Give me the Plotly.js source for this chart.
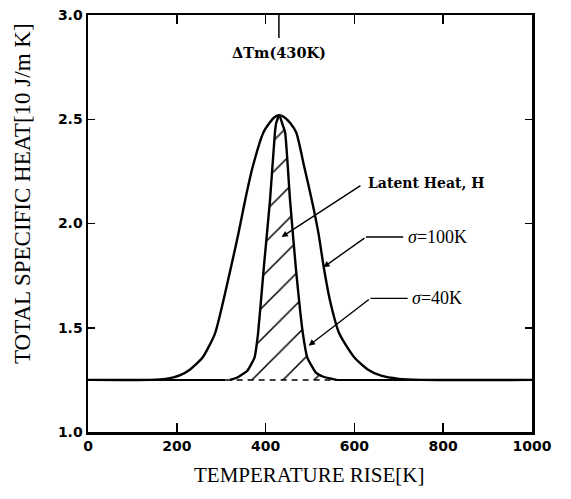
<!DOCTYPE html>
<html>
<head>
<meta charset="utf-8">
<script src="https://cdn.plot.ly/plotly-3.0.1.min.js"></script>
<style>html,body{margin:0;padding:0;background:#fff;}#chart{width:571px;height:499px;}</style>
</head>
<body>
<div id="chart"></div>
<script>
// ---- data ----
const baseline = 1.25;
const baseLeftX = [0, 310];
const baseDashX = [310, 557];
const baseRightX = [557, 1000];

// sigma = 100K (wide curve)
const wideX = [0, 140, 175, 205, 230, 258, 286, 305, 322, 339, 354, 371, 395, 409, 420, 431, 442, 455, 469, 487, 504, 519, 531, 545, 566, 600, 630, 660, 700, 750, 1000];
const wideY = [1.25, 1.25, 1.255, 1.27, 1.30, 1.357, 1.472, 1.631, 1.79, 1.954, 2.113, 2.272, 2.436, 2.483, 2.510, 2.52, 2.510, 2.483, 2.436, 2.272, 2.113, 1.954, 1.79, 1.631, 1.472, 1.357, 1.30, 1.27, 1.255, 1.25, 1.25];

// sigma = 40K (narrow curve)
const narrowX = [0, 320, 335, 359, 375, 383, 396, 410, 421, 424, 431, 437, 444, 455, 468, 484, 494, 513, 530, 549, 560, 1000];
const narrowY = [1.25, 1.25, 1.26, 1.294, 1.357, 1.472, 1.79, 2.113, 2.436, 2.483, 2.52, 2.483, 2.436, 2.113, 1.79, 1.472, 1.357, 1.285, 1.265, 1.255, 1.25, 1.25];

const tmK = [430];
const xTicks = [0, 200, 400, 600, 800, 1000];
const yTicks = [1.0, 1.5, 2.0, 2.5, 3.0];

// ---- traces ----
const hatchIdx = narrowX.map((x, i) => i).filter(i => narrowX[i] >= 320 && narrowX[i] <= 560);
const hatch = {
  x: hatchIdx.map(i => narrowX[i]),
  y: hatchIdx.map(i => narrowY[i]),
  mode: 'lines', line: {width: 0, color: 'rgba(0,0,0,0)', shape: 'spline', smoothing: 0.4},
  fill: 'toself', fillcolor: 'rgba(0,0,0,0)',
  fillpattern: {shape: '/', fgcolor: '#000', bgcolor: 'rgba(0,0,0,0)', size: 22, solidity: 0.07},
  hoverinfo: 'skip', showlegend: false
};
const lineStyle = {color: '#000', width: 2.4, shape: 'spline', smoothing: 0.6};
const traces = [
  hatch,
  {x: baseLeftX, y: baseLeftX.map(() => baseline), mode: 'lines', line: {color: '#000', width: 2}, showlegend: false},
  {x: baseDashX, y: baseDashX.map(() => baseline), mode: 'lines', line: {color: '#000', width: 1.5, dash: '6px,5px'}, showlegend: false},
  {x: baseRightX, y: baseRightX.map(() => baseline), mode: 'lines', line: {color: '#000', width: 2}, showlegend: false},
  {x: wideX, y: wideY, mode: 'lines', line: lineStyle, name: 'σ=100K', showlegend: false},
  {x: narrowX.slice(1, -1), y: narrowY.slice(1, -1), mode: 'lines', line: {color: '#000', width: 2.4, shape: 'spline', smoothing: 0.4}, name: 'σ=40K', showlegend: false}
];

const serifB = {family: 'DejaVu Serif', size: 14, color: '#000', weight: 'bold'};
const timesF = {family: 'Liberation Serif', size: 18, color: '#000'};
const annotations = [
  {x: tmK[0], y: 2.82, xref: 'x', yref: 'y', text: 'ΔTm(' + tmK[0] + 'K)', showarrow: false, font: {family: 'DejaVu Serif', size: 14.5, color: '#000', weight: 'bold'}},
  {x: 626, y: 2.195, xref: 'x', yref: 'y', xanchor: 'left', text: 'Latent Heat, H', showarrow: false, font: serifB},
  {x: 436, y: 1.935, xref: 'x', yref: 'y', ax: 617, ay: 2.186, axref: 'x', ayref: 'y', text: '', showarrow: true, arrowhead: 2, arrowsize: 0.9, arrowwidth: 1.4, arrowcolor: '#000'},
  {x: 716, y: 1.935, xref: 'x', yref: 'y', xanchor: 'left', text: '<i>σ</i>=100K', showarrow: false, font: timesF},
  {x: 530, y: 1.79, xref: 'x', yref: 'y', ax: 626, ay: 1.935, axref: 'x', ayref: 'y', text: '', showarrow: true, arrowhead: 2, arrowsize: 0.9, arrowwidth: 1.4, arrowcolor: '#000'},
  {x: 726, y: 1.641, xref: 'x', yref: 'y', xanchor: 'left', text: '<i>σ</i>=40K', showarrow: false, font: timesF},
  {x: 497, y: 1.414, xref: 'x', yref: 'y', ax: 636, ay: 1.641, axref: 'x', ayref: 'y', text: '', showarrow: true, arrowhead: 2, arrowsize: 0.9, arrowwidth: 1.4, arrowcolor: '#000'},
  {x: 0.497, y: -0.103, xref: 'paper', yref: 'paper', xanchor: 'center', yanchor: 'middle', text: 'TEMPERATURE RISE[K]', showarrow: false, font: {family: 'Liberation Serif', size: 21, color: '#000'}},
  {x: -0.146, y: 0.571, xref: 'paper', yref: 'paper', xanchor: 'center', yanchor: 'middle', text: 'TOTAL SPECIFIC HEAT[10 J/m K]', textangle: -90, showarrow: false, font: {family: 'Liberation Serif', size: 23, color: '#000'}}
];

const shapes = [
  {type: 'line', xref: 'x', yref: 'paper', x0: tmK[0], x1: tmK[0], y0: 1, y1: 0.945, line: {color: '#000', width: 1.5}},
  {type: 'line', xref: 'x', yref: 'y', x0: 626, x1: 710, y0: 1.935, y1: 1.935, line: {color: '#000', width: 1.4}},
  {type: 'line', xref: 'x', yref: 'y', x0: 636, x1: 720, y0: 1.641, y1: 1.641, line: {color: '#000', width: 1.4}}
];

const tickFont = {family: 'DejaVu Sans', size: 14, color: '#000', weight: 'bold'};
const layout = {
  width: 571, height: 499,
  margin: {l: 88, r: 39, t: 15, b: 67},
  paper_bgcolor: '#fff', plot_bgcolor: '#fff',
  showlegend: false,
  xaxis: {
    range: [0, 1000], tickvals: xTicks, ticktext: xTicks.map(String),
    ticks: 'inside', ticklen: 9, tickwidth: 1.5, tickcolor: '#000',
    showline: true, linewidth: 2.5, linecolor: '#000', mirror: 'ticks',
    showgrid: false, zeroline: false, tickfont: tickFont
  },
  yaxis: {
    range: [1, 3], tickvals: yTicks, ticktext: yTicks.map(v => v.toFixed(1)),
    ticks: 'inside', ticklen: 7, tickwidth: 1.5, tickcolor: '#000',
    showline: true, linewidth: 2.5, linecolor: '#000', mirror: 'ticks',
    showgrid: false, zeroline: false, tickfont: tickFont
  },
  annotations: annotations,
  shapes: shapes
};

Plotly.newPlot('chart', traces, layout, {staticPlot: true, displayModeBar: false});
</script>
</body>
</html>
